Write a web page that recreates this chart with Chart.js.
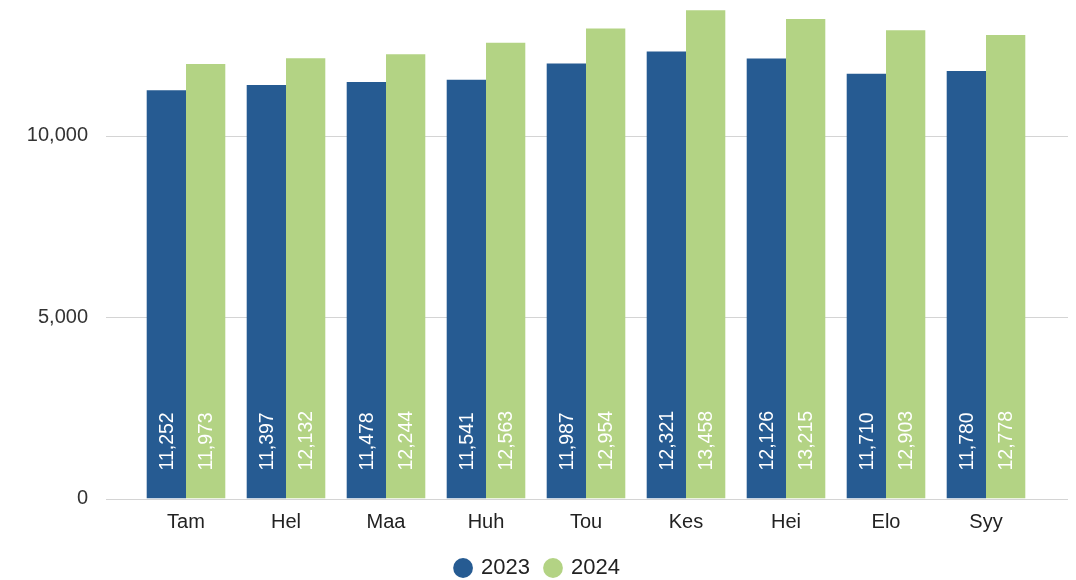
<!DOCTYPE html>
<html>
<head>
<meta charset="utf-8">
<script src="https://cdn.jsdelivr.net/npm/chart.js@4/dist/chart.umd.min.js"></script>
<style>
  html, body { margin: 0; padding: 0; background: #ffffff; }
  canvas { display: block; }
</style>
</head>
<body>
<canvas id="kuukausiChart" width="1076" height="580"></canvas>
<script>
// Kuukaudet ja vuosien arvot
const kuukaudet = ['Tam', 'Hel', 'Maa', 'Huh', 'Tou', 'Kes', 'Hei', 'Elo', 'Syy'];
const arvot2023 = [11252, 11397, 11478, 11541, 11987, 12321, 12126, 11710, 11780];
const arvot2024 = [11973, 12132, 12244, 12563, 12954, 13458, 13215, 12903, 12778];
const vuodet = ['2023', '2024'];
const yTicks = [0, 5000, 10000];

const SININEN = '#265b92';
const VIHREA = '#b3d384';
const FONTTI = "Arial, 'Liberation Sans', sans-serif";

// Vaakaviivat piirretään hieman piirtoalueen ulkopuolelle
const gridPlugin = {
    id: 'leveaGrid',
    beforeDatasetsDraw(chart) {
        const { ctx, chartArea, scales } = chart;
        ctx.save();
        ctx.strokeStyle = '#d4d4d4';
        ctx.lineWidth = 1;
        yTicks.forEach(v => {
            const y = Math.round(scales.y.getPixelForValue(v)) + 0.5;
            ctx.beginPath();
            ctx.moveTo(chartArea.left - 30, y);
            ctx.lineTo(chartArea.right + 32, y);
            ctx.stroke();
        });
        ctx.restore();
    }
};

// Arvot pylväiden sisään pystyyn
const arvoPlugin = {
    id: 'pylvasArvot',
    afterDatasetsDraw(chart) {
        const { ctx } = chart;
        ctx.save();
        ctx.fillStyle = '#ffffff';
        ctx.font = '19.5px ' + FONTTI;
        ctx.textAlign = 'left';
        ctx.textBaseline = 'middle';
        chart.data.datasets.forEach((ds, i) => {
            chart.getDatasetMeta(i).data.forEach((bar, j) => {
                ctx.save();
                ctx.translate(bar.x, bar.base - 28);
                ctx.rotate(-Math.PI / 2);
                ctx.fillText(ds.data[j].toLocaleString('en-US'), 0, 1);
                ctx.restore();
            });
        });
        ctx.restore();
    }
};

new Chart(document.getElementById('kuukausiChart'), {
    type: 'bar',
    data: {
        labels: kuukaudet,
        datasets: [
            { label: vuodet[0], data: arvot2023, backgroundColor: SININEN, borderWidth: 0 },
            { label: vuodet[1], data: arvot2024, backgroundColor: VIHREA, borderWidth: 0 }
        ]
    },
    options: {
        responsive: false,
        animation: false,
        layout: { padding: { left: 20, right: 20, top: 0, bottom: -9 } },
        datasets: { bar: { categoryPercentage: 0.786, barPercentage: 1 } },
        plugins: {
            tooltip: { enabled: false },
            legend: {
                position: 'bottom',
                labels: {
                    usePointStyle: true,
                    pointStyle: 'circle',
                    boxWidth: 14,
                    boxHeight: 14,
                    padding: 16,
                    color: '#222222',
                    font: { family: FONTTI, size: 22 }
                }
            }
        },
        scales: {
            x: {
                grid: { display: false },
                border: { display: false },
                ticks: { color: '#222222', padding: 4, font: { family: FONTTI, size: 20 } },
                afterFit: s => { s.height = 42.5; }
            },
            y: {
                min: 0,
                max: 13740,
                grid: { display: false },
                border: { display: false },
                ticks: {
                    color: '#333333',
                    padding: 40,
                    font: { family: FONTTI, size: 20 },
                    callback: v => v.toLocaleString('en-US')
                },
                afterBuildTicks: s => { s.ticks = yTicks.map(v => ({ value: v })); },
                afterFit: s => { s.width = 116; s.paddingTop = 0; s.paddingBottom = 0; }
            },
            // tyhjä oikea akseli jättää tilaa viivojen jatkeelle
            oikea: {
                type: 'linear',
                position: 'right',
                min: 0,
                max: 13740,
                grid: { display: false },
                border: { display: false },
                ticks: { display: false },
                afterFit: s => { s.width = 20; s.paddingTop = 0; s.paddingBottom = 0; }
            }
        }
    },
    plugins: [gridPlugin, arvoPlugin]
});
</script>
</body>
</html>
